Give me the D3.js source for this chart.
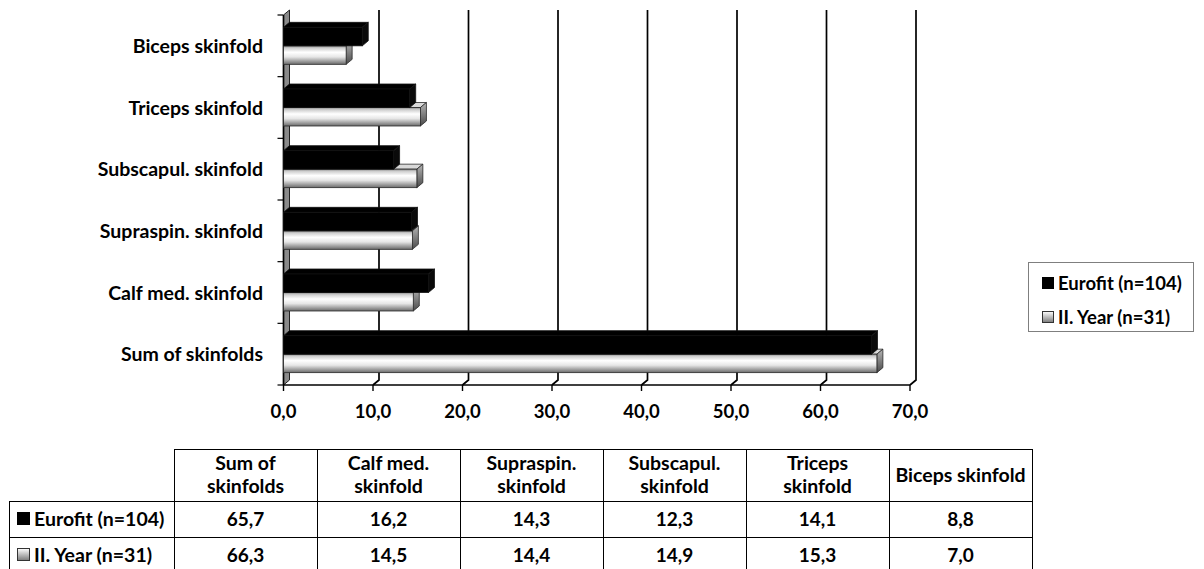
<!DOCTYPE html>
<html>
<head>
<meta charset="utf-8">
<script src="https://cdn.jsdelivr.net/npm/d3@7"></script>
<style>
  html, body { margin: 0; padding: 0; background: #fff; }
  svg { display: block; font-family: Lato, "Open Sans", sans-serif; font-weight: 700; }
</style>
</head>
<body>
<svg id="chart" width="1204" height="569"></svg>
<script>
// Skinfold measurements (mm), Eurofit reference vs. second-year students
const categories = ["Sum of skinfolds", "Calf med. skinfold", "Supraspin. skinfold",
                    "Subscapul. skinfold", "Triceps skinfold", "Biceps skinfold"];
const headerLines = [["Sum of", "skinfolds"], ["Calf med.", "skinfold"], ["Supraspin.", "skinfold"],
                     ["Subscapul.", "skinfold"], ["Triceps", "skinfold"], ["Biceps skinfold"]];
const seriesNames = ["Eurofit (n=104)", "II. Year (n=31)"];
const eurofit = [65.7, 16.2, 14.3, 12.3, 14.1, 8.8];
const secondYear = [66.3, 14.5, 14.4, 14.9, 15.3, 7.0];
const xTicks = [0, 10, 20, 30, 40, 50, 60, 70];

const fmt = v => d3.format(".1f")(v).replace(".", ",");

const svg = d3.select("#chart");
const defs = svg.append("defs");

// Gradients for the light bars (front face, side face, legend key)
const gFront = defs.append("linearGradient").attr("id", "gFront")
  .attr("x1", 0).attr("y1", 0).attr("x2", 0).attr("y2", 1);
[["0%", "#8c8c8c"], ["12%", "#cfcfcf"], ["35%", "#ffffff"], ["60%", "#e6e6e6"], ["100%", "#6a6a6a"]]
  .forEach(([o, c]) => gFront.append("stop").attr("offset", o).attr("stop-color", c));
const gSide = defs.append("linearGradient").attr("id", "gSide")
  .attr("x1", 0).attr("y1", 0).attr("x2", 0).attr("y2", 1);
[["0%", "#b5b5b5"], ["100%", "#4a4a4a"]]
  .forEach(([o, c]) => gSide.append("stop").attr("offset", o).attr("stop-color", c));
const gKey = defs.append("linearGradient").attr("id", "gKey")
  .attr("x1", 0).attr("y1", 0).attr("x2", 0).attr("y2", 1);
[["0%", "#ffffff"], ["100%", "#7a7a7a"]]
  .forEach(([o, c]) => gKey.append("stop").attr("offset", o).attr("stop-color", c));

// 3D projection offset of the back wall
const DX = 6, DY = -5;

const x = d3.scaleLinear().domain([0, 70]).range([283.5, 910]);
const y = d3.scaleBand().domain(categories).range([385, 15]);
const ySub = d3.scaleBand().domain(seriesNames).range([0, y.bandwidth()])
  .paddingInner(0).paddingOuter(0.667);

const plot = svg.append("g");

// Back-wall gridlines with their slanted feet on the floor
xTicks.filter(t => t > 0).forEach(t => {
  const xf = x(t), xb = xf + DX;
  plot.append("path")
    .attr("d", `M${xb},${y.range()[1] + DY} L${xb},${y.range()[0] + DY} L${xf},${y.range()[0]}`)
    .attr("fill", "none").attr("stroke", "#000").attr("stroke-width", 1.7);
});

// Left wall
const x0 = x(0);
plot.append("path")
  .attr("d", `M${x0},15 L${x0 + DX},${15 + DY} L${x0 + DX},${385 + DY} L${x0},385 Z`)
  .attr("fill", "#8a8a8a").attr("stroke", "#222").attr("stroke-width", 1);
plot.append("line").attr("x1", x0).attr("x2", x0).attr("y1", 15).attr("y2", 385)
  .attr("stroke", "#000").attr("stroke-width", 1.7);

// Category ticks on the wall edge
const bounds = categories.map(c => y(c)).concat([385]);
plot.selectAll(".ytick").data(bounds).join("line")
  .attr("x1", x0 - 6).attr("x2", x0).attr("y1", d => d).attr("y2", d => d)
  .attr("stroke", "#000").attr("stroke-width", 1.2);

// Floor axis line and ticks
plot.append("line").attr("x1", x0).attr("x2", x(70)).attr("y1", 385).attr("y2", 385)
  .attr("stroke", "#000").attr("stroke-width", 1.7);
plot.selectAll(".xtick").data(xTicks).join("line")
  .attr("x1", d => x(d)).attr("x2", d => x(d)).attr("y1", 385).attr("y2", 391)
  .attr("stroke", "#000").attr("stroke-width", 1.4);

// Axis tick labels
svg.selectAll(".xlab").data(xTicks).join("text")
  .attr("x", d => x(d)).attr("y", 418).attr("text-anchor", "middle")
  .attr("font-size", 18.5).text(fmt);

// Category labels
svg.selectAll(".ylab").data(categories).join("text")
  .attr("x", 263).attr("y", d => y(d) + y.bandwidth() / 2 + 7)
  .attr("text-anchor", "end").attr("font-size", 19.5).text(d => d);

// Draws one 3D bar: front face, top face, right side face
function bar3d(g, v, top, h, style) {
  const xs = x(0), xe = x(v);
  const grp = g.append("g");
  // top face
  grp.append("path")
    .attr("d", `M${xs},${top} L${xs + DX},${top + DY} L${xe + DX},${top + DY} L${xe},${top} Z`)
    .attr("fill", style.top).attr("stroke", style.stroke).attr("stroke-width", 0.8);
  // side face
  grp.append("path")
    .attr("d", `M${xe},${top} L${xe + DX},${top + DY} L${xe + DX},${top + h + DY} L${xe},${top + h} Z`)
    .attr("fill", style.side).attr("stroke", style.stroke).attr("stroke-width", 0.8);
  // front face
  grp.append("rect").attr("x", xs).attr("y", top).attr("width", xe - xs).attr("height", h)
    .attr("fill", style.front).attr("stroke", style.stroke).attr("stroke-width", 0.8);
}

const darkStyle = { front: "#000", top: "#000", side: "#0a0a0a", stroke: "#111" };
const lightStyle = { front: "url(#gFront)", top: "#d9d9d9", side: "url(#gSide)", stroke: "#2a2a2a" };

const bars = svg.append("g");
categories.forEach((c, i) => {
  // lower (light) bar first so the dark bar above hides its top face
  bar3d(bars, secondYear[i], y(c) + ySub(seriesNames[1]), ySub.bandwidth(), lightStyle);
  bar3d(bars, eurofit[i], y(c) + ySub(seriesNames[0]), ySub.bandwidth(), darkStyle);
});

// Legend
const leg = svg.append("g");
leg.append("rect").attr("x", 1028.5).attr("y", 262.5).attr("width", 165).attr("height", 69)
  .attr("fill", "#fff").attr("stroke", "#7f7f7f").attr("stroke-width", 1);
const legY = [283, 317];
seriesNames.forEach((s, i) => {
  leg.append("rect").attr("x", 1042.5).attr("y", legY[i] - 5.5).attr("width", 11).attr("height", 11)
    .attr("fill", i === 0 ? "#000" : "url(#gKey)").attr("stroke", i === 0 ? "#000" : "#333");
  leg.append("text").attr("x", 1058).attr("y", legY[i] + 6.5).attr("font-size", 18.5).text(s);
});

// Data table
const colX = d3.range(7).map(i => 174 + i * 143);
const rowY = [449, 501, 537, 573];
const tbl = svg.append("g");
const lineStyle = sel => sel.attr("stroke", "#000").attr("stroke-width", 1).attr("shape-rendering", "crispEdges");

// horizontal lines
tbl.append("line").attr("x1", colX[0]).attr("x2", colX[6]).attr("y1", rowY[0]).attr("y2", rowY[0]).call(lineStyle);
[1, 2, 3].forEach(r => tbl.append("line").attr("x1", 9).attr("x2", colX[6])
  .attr("y1", rowY[r]).attr("y2", rowY[r]).call(lineStyle));
// vertical lines
colX.forEach(cx => tbl.append("line").attr("x1", cx).attr("x2", cx)
  .attr("y1", rowY[0]).attr("y2", rowY[3]).call(lineStyle));
tbl.append("line").attr("x1", 9).attr("x2", 9).attr("y1", rowY[1]).attr("y2", rowY[3]).call(lineStyle);

// header cells
headerLines.forEach((lines, i) => {
  const cx = (colX[i] + colX[i + 1]) / 2;
  const mid = (rowY[0] + rowY[1]) / 2;
  const t = tbl.append("text").attr("text-anchor", "middle").attr("font-size", 19.5);
  lines.forEach((ln, j) => {
    t.append("tspan").attr("x", cx)
      .attr("y", mid + 6.5 + (j - (lines.length - 1) / 2) * 23).text(ln);
  });
});

// series rows
[eurofit, secondYear].forEach((vals, r) => {
  const mid = (rowY[r + 1] + rowY[r + 2]) / 2;
  tbl.append("rect").attr("x", 17.5).attr("y", mid - 6.5).attr("width", 12).attr("height", 12)
    .attr("fill", r === 0 ? "#000" : "url(#gKey)").attr("stroke", r === 0 ? "#000" : "#333");
  tbl.append("text").attr("x", 34).attr("y", mid + 7).attr("font-size", 19.5).text(seriesNames[r]);
  vals.forEach((v, i) => {
    tbl.append("text").attr("x", (colX[i] + colX[i + 1]) / 2).attr("y", mid + 7)
      .attr("text-anchor", "middle").attr("font-size", 19).text(fmt(v));
  });
});
</script>
</body>
</html>
